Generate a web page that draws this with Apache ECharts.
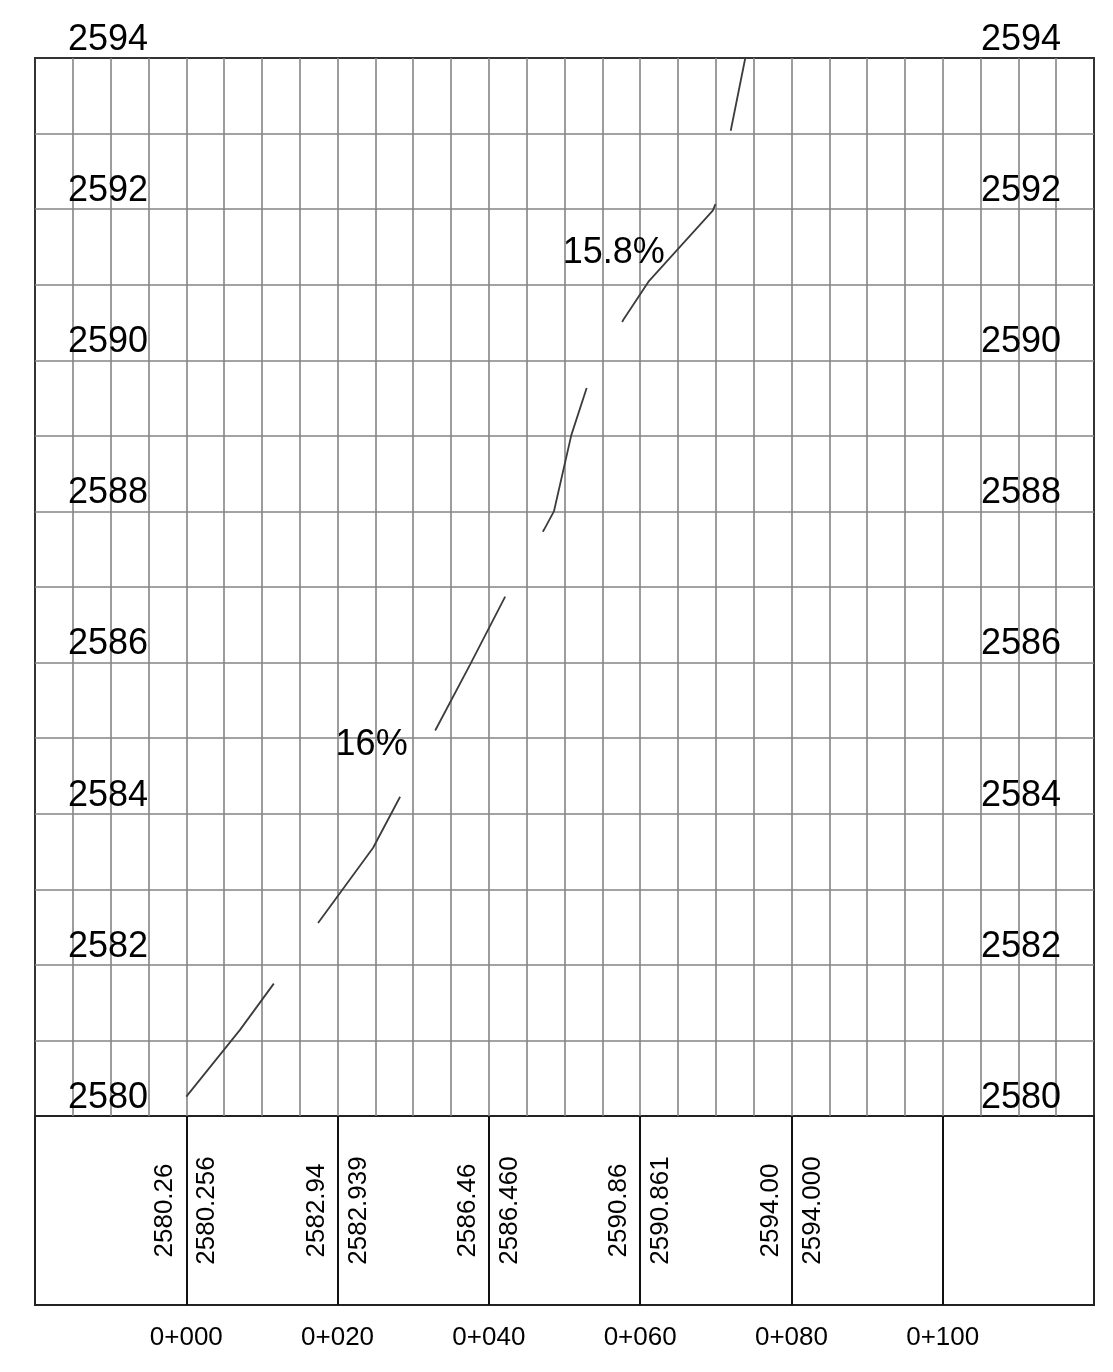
<!DOCTYPE html>
<html>
<head>
<meta charset="utf-8">
<script src="https://cdn.jsdelivr.net/npm/echarts@6/dist/echarts.min.js"></script>
<style>
  html, body { margin: 0; padding: 0; background: #fff; }
  #chart { width: 1113px; height: 1372px; }
</style>
</head>
<body>
<div id="chart"></div>
<script>
// ---- data ----
const stations = [0, 20, 40, 60, 80, 100];
const chainageLabels = ['0+000', '0+020', '0+040', '0+060', '0+080', '0+100'];
const groundElev = ['2580.26', '2582.94', '2586.46', '2590.86', '2594.00'];
const designElev = ['2580.256', '2582.939', '2586.460', '2590.861', '2594.000'];
const profileX = [0, 7.1, 24.7, 37.5, 42.3, 47.3, 48.6, 50.9, 53.05, 57.8, 61.1, 69.6, 70.1, 73.9];
const profileY = [2580.256, 2581.14, 2583.55, 2585.97, 2586.90, 2587.76, 2588.0, 2589.01, 2589.67, 2590.54, 2591.04, 2591.98, 2592.10, 2594.0];
const gradeLabels = ['16%', '15.8%'];
const gradeX = [24.5, 56.5];
const gradeY = [2584.91, 2591.42];
const elevMin = 2580, elevMax = 2594;
const chainMin = -20, chainMax = 120;

const FONT = 'Liberation Sans, Arial, sans-serif';
const chart = echarts.init(document.getElementById('chart'), null, { renderer: 'canvas' });

const profileData = profileX.map((x, i) => [x, profileY[i]]);
const gradeData = gradeLabels.map((t, i) => ({ value: [gradeX[i], gradeY[i]], name: t }));
const groundData = groundElev.map((t, i) => ({ value: [stations[i], 0.5], name: t }));
const designData = designElev.map((t, i) => ({ value: [stations[i], 0.5], name: t }));

const elevLabel = {
  inside: true,
  margin: 33,
  fontSize: 36,
  fontFamily: FONT,
  color: '#000',
  verticalAlign: 'bottom',
  formatter: v => (Math.round(v) % 2 === 0 ? String(Math.round(v)) : '')
};

const option = {
  backgroundColor: '#fff',
  animation: false,
  grid: [
    { left: 35, top: 58, right: 19, height: 1058, show: true, borderColor: '#333', borderWidth: 2, backgroundColor: 'transparent' },
    { left: 35, top: 1116, right: 19, height: 189, show: true, borderColor: '#222', borderWidth: 2, backgroundColor: 'transparent' }
  ],
  xAxis: [
    {
      gridIndex: 0, type: 'value', min: chainMin, max: chainMax, interval: 5,
      axisLine: { show: false }, axisTick: { show: false }, axisLabel: { show: false },
      splitLine: { show: true, showMinLine: false, showMaxLine: false, lineStyle: { color: '#858585', width: 1.6 } }
    },
    {
      gridIndex: 1, type: 'value', min: chainMin, max: chainMax, interval: 20,
      axisLine: { show: false }, axisTick: { show: false },
      axisLabel: {
        show: true, margin: 20, fontSize: 26, fontFamily: FONT, color: '#000',
        formatter: v => { const i = stations.indexOf(Math.round(v)); return i >= 0 ? chainageLabels[i] : ''; }
      },
      splitLine: { show: true, showMinLine: false, showMaxLine: false, lineStyle: { color: '#111', width: 2 } }
    }
  ],
  yAxis: [
    {
      gridIndex: 0, type: 'value', min: elevMin, max: elevMax, interval: 1, position: 'left',
      axisLine: { show: false }, axisTick: { show: false },
      axisLabel: elevLabel,
      splitLine: { show: true, showMinLine: false, showMaxLine: false, lineStyle: { color: '#858585', width: 1.6 } }
    },
    {
      gridIndex: 0, type: 'value', min: elevMin, max: elevMax, interval: 1, position: 'right',
      axisLine: { show: false }, axisTick: { show: false },
      axisLabel: elevLabel,
      splitLine: { show: false }
    },
    {
      gridIndex: 1, type: 'value', min: 0, max: 1, show: false
    }
  ],
  series: [
    {
      type: 'line', xAxisIndex: 0, yAxisIndex: 0, data: profileData,
      symbol: 'none', clip: true, z: 5,
      lineStyle: { color: '#3c3c3c', width: 1.8, type: [151, 75], dashOffset: 8 }
    },
    {
      type: 'scatter', xAxisIndex: 0, yAxisIndex: 0, data: gradeData,
      symbolSize: 0, z: 6, itemStyle: { opacity: 1 },
      label: { show: true, position: 'inside', formatter: p => p.name, fontSize: 36, fontFamily: FONT, color: '#000' }
    },
    {
      type: 'scatter', xAxisIndex: 1, yAxisIndex: 2, data: groundData,
      symbolSize: 0, itemStyle: { opacity: 1 },
      label: { show: true, position: 'inside', rotate: 90, offset: [0, -21], align: 'center', verticalAlign: 'middle',
               formatter: p => p.name, fontSize: 26, fontFamily: FONT, color: '#000' }
    },
    {
      type: 'scatter', xAxisIndex: 1, yAxisIndex: 2, data: designData,
      symbolSize: 0, itemStyle: { opacity: 1 },
      label: { show: true, position: 'inside', rotate: 90, offset: [0, 21], align: 'center', verticalAlign: 'middle',
               formatter: p => p.name, fontSize: 26, fontFamily: FONT, color: '#000' }
    }
  ]
};
chart.setOption(option);
</script>
</body>
</html>
